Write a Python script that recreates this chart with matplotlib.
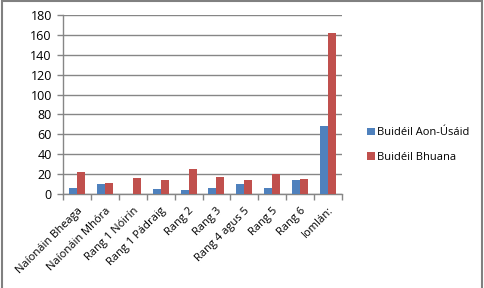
import matplotlib
matplotlib.use("Agg")
import matplotlib.pyplot as plt
from matplotlib.patches import Rectangle
import numpy as np

categories = ["Naíonáin Bheaga", "Naíonáin Mhóra", "Rang 1 Nóirín", "Rang 1 Pádraig",
              "Rang 2", "Rang 3", "Rang 4 agus 5", "Rang 5", "Rang 6", "Iomlán:"]
series_names = ["Buidéil Aon-Úsáid", "Buidéil Bhuana"]
aon_usaid = [6, 10, 0, 5, 4, 6, 10, 6, 14, 68]
bhuana = [22, 11, 16, 14, 25, 17, 14, 20, 15, 162]
yticks = list(range(0, 181, 20))

colors = ["#4F81BD", "#C0504D"]
grid_col = "#868686"

plt.rcParams['font.family'] = ['Open Sans', 'DejaVu Sans']

fig = plt.figure(figsize=(4.84, 2.88), dpi=100)
ax = fig.add_axes([63/484, 1-194/288, (342-63)/484, (194-15)/288])

x = np.arange(len(categories))
w = 0.286
ax.bar(x - w/2, aon_usaid, width=w, color=colors[0], label=series_names[0], zorder=3)
ax.bar(x + w/2, bhuana, width=w, color=colors[1], label=series_names[1], zorder=3)

ax.set_xlim(-0.5, len(categories) - 0.5)
ax.set_ylim(0, 180)
ax.set_yticks(yticks)
ax.set_yticklabels([str(v) for v in yticks], fontsize=9)
ax.yaxis.grid(True, color=grid_col, linewidth=1, zorder=0)
ax.set_axisbelow(True)

ax.set_xticks(x)
ax.set_xticklabels(categories, rotation=45, ha='right', rotation_mode='anchor', fontsize=8)
ax.tick_params(axis='x', length=0, pad=8)
ax.set_xticks(np.arange(-0.5, len(categories)), minor=True)
ax.tick_params(axis='x', which='minor', length=4, color=grid_col, width=1)
ax.tick_params(axis='y', length=4, color=grid_col, width=1, pad=4)

for s in ['top', 'right']:
    ax.spines[s].set_visible(False)
for s in ['left', 'bottom']:
    ax.spines[s].set_color(grid_col)
    ax.spines[s].set_linewidth(1)

leg = fig.legend(loc='center left', bbox_to_anchor=(357/484, 1-145/288), frameon=False,
                 fontsize=8, handlelength=0.7, handleheight=0.7, handletextpad=0.2,
                 labelspacing=1.2)

fig.patches.append(Rectangle((2/484, -0.05), 480/484, 1.05 - 1/288, transform=fig.transFigure,
                             fill=False, edgecolor="#808080", linewidth=1.5))

fig.savefig("out.png", dpi=100)
